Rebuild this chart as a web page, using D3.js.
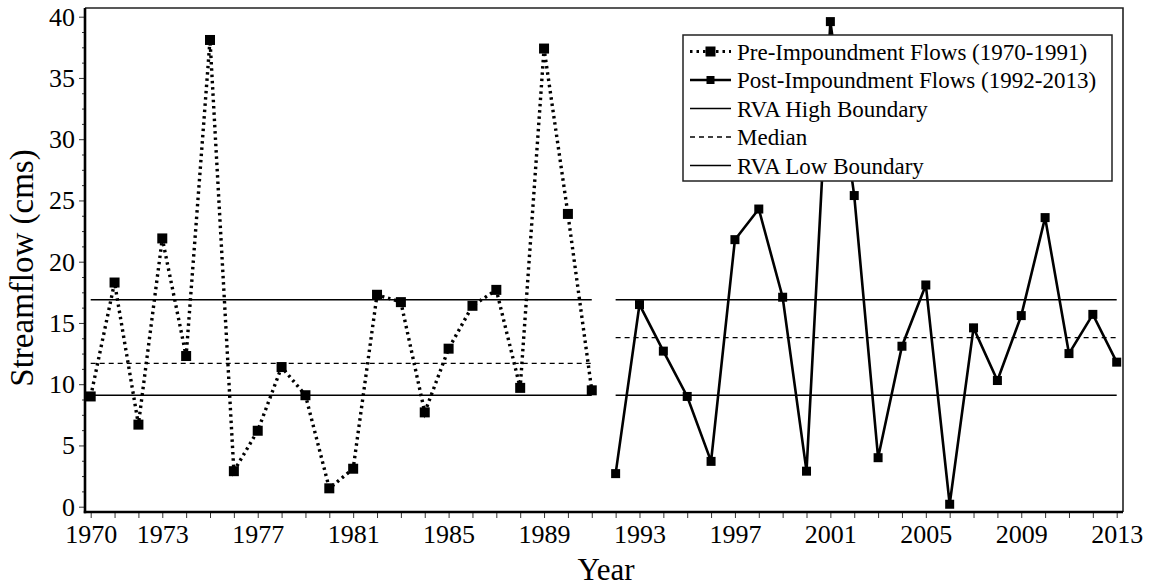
<!DOCTYPE html>
<html>
<head>
<meta charset="utf-8">
<script src="https://cdn.jsdelivr.net/npm/d3@7"></script>
<style>
  html, body { margin: 0; padding: 0; background: #fff; }
  svg { display: block; }
  svg text { font-family: "Liberation Serif", "Times New Roman", serif !important; }
</style>
</head>
<body>
<svg id="chart" width="1154" height="588"></svg>
<script>
// Annual streamflow, before and after impoundment
const preYears = [1970,1971,1972,1973,1974,1975,1976,1977,1978,1979,1980,1981,1982,1983,1984,1985,1986,1987,1988,1989,1990,1991];
const preFlow  = [9.0,18.3,6.7,21.9,12.3,38.1,2.9,6.2,11.4,9.1,1.5,3.1,17.3,16.7,7.7,12.9,16.4,17.7,9.7,37.4,23.9,9.5];

const postYears = [1992,1993,1994,1995,1996,1997,1998,1999,2000,2001,2002,2003,2004,2005,2006,2007,2008,2009,2010,2011,2012,2013];
const postFlow  = [2.7,16.5,12.7,9.0,3.7,21.8,24.3,17.1,2.9,39.6,25.4,4.0,13.1,18.1,0.2,14.6,10.3,15.6,23.6,12.5,15.7,11.8];

// RVA boundaries and medians for each period
const preRef  = { high: 16.9, median: 11.7, low: 9.1 };
const postRef = { high: 16.9, median: 13.8, low: 9.1 };

const xLabelYears = [1970,1973,1977,1981,1985,1989,1993,1997,2001,2005,2009,2013];
const yMajorTicks = [0,5,10,15,20,25,30,35,40];

const legendLabels = [
  "Pre-Impoundment Flows (1970-1991)",
  "Post-Impoundment Flows (1992-2013)",
  "RVA High Boundary",
  "Median",
  "RVA Low Boundary"
];

const serif = "'Liberation Serif', 'Times New Roman', serif";
const svg = d3.select("#chart");

const frame = { left: 85, right: 1123, top: 8, bottom: 512 };

const x = d3.scaleLinear().domain([1970, 2013]).range([90.7, 1116.7]);
const y = d3.scaleLinear().domain([0, 40]).range([506.7, 16.7]);

// Frame (top and right)
svg.append("path")
  .attr("d", `M${frame.left},${frame.top}H${frame.right}V${frame.bottom}`)
  .attr("fill", "none").attr("stroke", "#222").attr("stroke-width", 1.6);

// Reference lines
function refLines(ref, x0, x1) {
  const g = svg.append("g");
  g.append("line").attr("x1", x(x0)).attr("x2", x(x1))
    .attr("y1", y(ref.high)).attr("y2", y(ref.high))
    .attr("stroke", "#000").attr("stroke-width", 1.4);
  g.append("line").attr("x1", x(x0)).attr("x2", x(x1))
    .attr("y1", y(ref.median)).attr("y2", y(ref.median))
    .attr("stroke", "#000").attr("stroke-width", 1.3).attr("stroke-dasharray", "5,4");
  g.append("line").attr("x1", x(x0)).attr("x2", x(x1))
    .attr("y1", y(ref.low)).attr("y2", y(ref.low))
    .attr("stroke", "#000").attr("stroke-width", 1.4);
}
refLines(preRef, 1970, 1991);
refLines(postRef, 1992, 2013);

const line = d3.line().x(d => x(d[0])).y(d => y(d[1]));
const preData = preYears.map((yr, i) => [yr, preFlow[i]]);
const postData = postYears.map((yr, i) => [yr, postFlow[i]]);

// Pre-impoundment: dotted
svg.append("path").datum(preData)
  .attr("d", line).attr("fill", "none")
  .attr("stroke", "#000").attr("stroke-width", 3.4)
  .attr("stroke-dasharray", "2.5,3.8");

svg.append("g").selectAll("rect").data(preData).join("rect")
  .attr("x", d => x(d[0]) - 5).attr("y", d => y(d[1]) - 5)
  .attr("width", 10).attr("height", 10).attr("fill", "#000");

// Post-impoundment: solid
svg.append("path").datum(postData)
  .attr("d", line).attr("fill", "none")
  .attr("stroke", "#000").attr("stroke-width", 2.6)
  .attr("stroke-linejoin", "miter");

svg.append("g").selectAll("rect").data(postData).join("rect")
  .attr("x", d => x(d[0]) - 4.5).attr("y", d => y(d[1]) - 4.5)
  .attr("width", 9).attr("height", 9).attr("fill", "#000");

// Y axis
const yAxis = svg.append("g").attr("transform", `translate(${frame.left},0)`)
  .call(d3.axisLeft(y).tickValues(yMajorTicks).tickSize(6).tickPadding(4).tickFormat(d3.format("d")));
const yMinor = d3.range(0, 40, 1.25).filter(v => v % 5 !== 0);
svg.append("g").attr("transform", `translate(${frame.left},0)`)
  .call(d3.axisLeft(y).tickValues(yMinor).tickSize(3).tickFormat(""))
  .call(g => g.select(".domain").remove());
yAxis.select(".domain").remove();
svg.append("line").attr("x1", frame.left).attr("x2", frame.left)
  .attr("y1", frame.top).attr("y2", frame.bottom + 1.2)
  .attr("stroke", "#000").attr("stroke-width", 2.6);

// X axis
const xAxis = svg.append("g").attr("transform", `translate(0,${frame.bottom})`)
  .call(d3.axisBottom(x).tickValues(d3.range(1970, 2014)).tickSize(6).tickPadding(7)
    .tickFormat(d => xLabelYears.includes(d) ? String(d) : ""));
xAxis.select(".domain").remove();
svg.append("line").attr("x1", frame.left - 1.2).attr("x2", frame.right)
  .attr("y1", frame.bottom).attr("y2", frame.bottom)
  .attr("stroke", "#000").attr("stroke-width", 2.6);

svg.selectAll("g").attr("font-family", serif);
svg.selectAll(".tick line").attr("stroke", "#333").attr("stroke-width", 1);
svg.selectAll(".tick text")
  .style("font-family", serif)
  .attr("font-size", 26).attr("fill", "#000");

// Axis titles
svg.append("text").attr("x", 606).attr("y", 580)
  .attr("text-anchor", "middle").attr("font-size", 31).style("font-family", serif).text("Year");
svg.append("text")
  .attr("transform", "translate(33,268) rotate(-90)")
  .attr("text-anchor", "middle").attr("font-size", 33).style("font-family", serif).text("Streamflow (cms)");

// Legend
const lg = svg.append("g");
lg.append("rect").attr("x", 683).attr("y", 35).attr("width", 429).attr("height", 146)
  .attr("fill", "#fff").attr("stroke", "#222").attr("stroke-width", 1.5);
const rowY = i => 51.5 + i * 28.5;
const sx0 = 690, sx1 = 731;
// Pre
lg.append("line").attr("x1", sx0).attr("x2", sx1).attr("y1", rowY(0)).attr("y2", rowY(0))
  .attr("stroke", "#000").attr("stroke-width", 3).attr("stroke-dasharray", "2.5,4");
lg.append("rect").attr("x", (sx0 + sx1) / 2 - 5).attr("y", rowY(0) - 5).attr("width", 10).attr("height", 10).attr("fill", "#000");
// Post
lg.append("line").attr("x1", sx0).attr("x2", sx1).attr("y1", rowY(1)).attr("y2", rowY(1))
  .attr("stroke", "#000").attr("stroke-width", 2.6);
lg.append("rect").attr("x", (sx0 + sx1) / 2 - 4).attr("y", rowY(1) - 4).attr("width", 8).attr("height", 8).attr("fill", "#000");
// High
lg.append("line").attr("x1", sx0).attr("x2", sx1).attr("y1", rowY(2)).attr("y2", rowY(2))
  .attr("stroke", "#000").attr("stroke-width", 1.4);
// Median
lg.append("line").attr("x1", sx0).attr("x2", sx1).attr("y1", rowY(3)).attr("y2", rowY(3))
  .attr("stroke", "#000").attr("stroke-width", 1.3).attr("stroke-dasharray", "5,4");
// Low
lg.append("line").attr("x1", sx0).attr("x2", sx1).attr("y1", rowY(4)).attr("y2", rowY(4))
  .attr("stroke", "#000").attr("stroke-width", 1.4);

lg.selectAll("text.lab").data(legendLabels).join("text").attr("class", "lab")
  .attr("x", 737).attr("y", (d, i) => rowY(i) + 8)
  .attr("font-size", 23).style("font-family", serif).attr("fill", "#000").text(d => d);
</script>
</body>
</html>
